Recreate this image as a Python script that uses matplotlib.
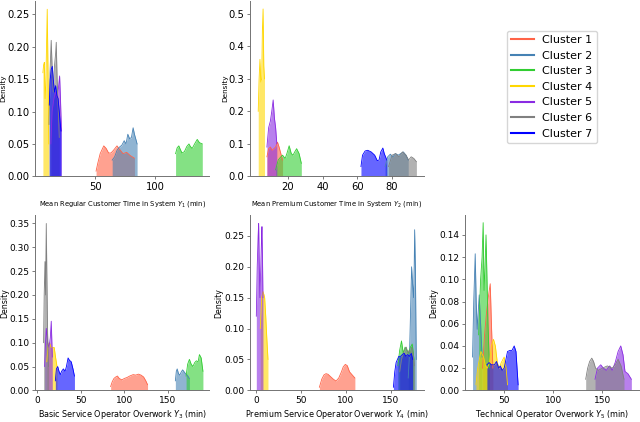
import matplotlib
matplotlib.use("Agg")
import matplotlib.pyplot as plt
from matplotlib.lines import Line2D

# === Données (densités par cluster) ===
clusters = ["Cluster 1", "Cluster 2", "Cluster 3", "Cluster 4", "Cluster 5", "Cluster 6", "Cluster 7"]
colors = ["tomato", "steelblue", "limegreen", "gold", "blueviolet", "gray", "blue"]

# Y1 : temps moyen client régulier
y1_x = [
    [50.6, 52, 54, 57, 59, 61, 63, 65, 68, 70, 73, 76, 79, 82.5],
    [64, 66, 68, 70, 72, 74, 75.5, 77, 78.5, 80, 81.4, 82.5, 84, 84.7],
    [116.7, 118, 119.4, 120.5, 122, 124, 126, 127.8, 129, 130.5, 132.5, 134.7, 136.5, 138.9],
    [6.4, 7.0, 7.6, 8.2, 8.8, 9.4, 10.0, 10.4, 10.9, 11.3],
    [13, 14, 15.5, 17, 18.5, 19.5, 20.3, 21, 21.8],
    [11.5, 12.3, 13.3, 14.2, 15.0, 16.0, 17.0, 17.5, 18.2, 19.0, 20.0],
    [11.7, 12.5, 13.3, 14.2, 15.0, 16.0, 17.0, 18.0, 19.0, 20.0, 21.4],
]
y1_d = [
    [0.008, 0.02, 0.035, 0.047, 0.043, 0.036, 0.036, 0.04, 0.047, 0.042, 0.035, 0.037, 0.032, 0.028],
    [0.025, 0.03, 0.04, 0.045, 0.048, 0.055, 0.05, 0.065, 0.058, 0.06, 0.075, 0.065, 0.055, 0.05],
    [0.035, 0.044, 0.047, 0.042, 0.036, 0.038, 0.046, 0.05, 0.046, 0.043, 0.05, 0.057, 0.052, 0.05],
    [0.16, 0.172, 0.176, 0.12, 0.14, 0.2, 0.258, 0.2, 0.12, 0.05],
    [0.05, 0.1, 0.12, 0.13, 0.12, 0.14, 0.155, 0.12, 0.07],
    [0.08, 0.16, 0.21, 0.16, 0.13, 0.17, 0.19, 0.207, 0.15, 0.11, 0.06],
    [0.11, 0.15, 0.165, 0.17, 0.15, 0.13, 0.14, 0.125, 0.12, 0.1, 0.07],
]

# Y2 : temps moyen client premium
y2_x = [
    [8.0, 9.0, 10.0, 11.0, 12.0, 13.0, 14.1, 15.0, 16.0, 17.0],
    [76, 77.5, 79, 80.5, 82, 83.5, 85, 86.5, 88, 89.3],
    [13.0, 14.5, 16.0, 17.0, 18.5, 19.5, 20.8, 22.0, 23.0, 24.0, 25.1, 26.5, 27.8],
    [3.0, 3.5, 4.0, 4.5, 5.0, 5.4, 5.8, 6.2, 6.6],
    [8.0, 9.0, 10.0, 10.8, 11.6, 12.3, 13.0, 13.7],
    [78, 80, 82, 84, 86, 88, 89.5, 91, 92.5, 94],
    [62.1, 63, 64.5, 66, 68, 70, 71.5, 72.5, 73.5, 74.7, 75.5, 77],
]
y2_d = [
    [0.06, 0.085, 0.09, 0.08, 0.085, 0.09, 0.105, 0.09, 0.07, 0.05],
    [0.03, 0.06, 0.068, 0.06, 0.07, 0.065, 0.07, 0.075, 0.065, 0.05],
    [0.02, 0.05, 0.06, 0.065, 0.055, 0.07, 0.094, 0.07, 0.065, 0.075, 0.085, 0.07, 0.04],
    [0.2, 0.3, 0.36, 0.29, 0.3, 0.45, 0.515, 0.34, 0.3],
    [0.09, 0.15, 0.17, 0.2, 0.235, 0.18, 0.15, 0.1],
    [0.03, 0.065, 0.07, 0.06, 0.075, 0.065, 0.05, 0.06, 0.055, 0.045],
    [0.03, 0.065, 0.078, 0.08, 0.075, 0.065, 0.048, 0.05, 0.075, 0.087, 0.07, 0.05],
]

# Y3 : heures sup. opérateur basique
y3_x = [
    [84.2, 86, 88, 90, 92, 94, 97, 100, 103, 106, 110, 113, 116, 119, 122, 124.5, 126.5],
    [158.4, 159.5, 160.5, 162, 163.5, 165, 166.7, 168, 170, 172, 174.5],
    [170.7, 172.5, 174.5, 176.5, 178.5, 180.5, 182.5, 184.5, 186, 188, 190],
    [11.0, 12.5, 14.0, 16.0, 18.0, 19.5, 21.0, 22.7],
    [8.5, 9.5, 10.4, 12.0, 13.5, 15.0, 16.1, 17.3],
    [7.3, 8.0, 8.9, 9.5, 10.4, 11.0, 11.9, 13.0],
    [20.8, 22, 23.5, 25, 26.5, 28, 30, 32, 33.5, 35.4, 37, 39, 41, 42.7],
]
y3_d = [
    [0.008, 0.018, 0.025, 0.028, 0.03, 0.025, 0.022, 0.025, 0.027, 0.03, 0.033, 0.032, 0.034, 0.032, 0.028, 0.02, 0.012],
    [0.02, 0.04, 0.045, 0.035, 0.032, 0.038, 0.043, 0.04, 0.035, 0.032, 0.025],
    [0.03, 0.055, 0.065, 0.055, 0.05, 0.058, 0.062, 0.06, 0.075, 0.068, 0.04],
    [0.06, 0.095, 0.1, 0.09, 0.09, 0.09, 0.07, 0.05],
    [0.05, 0.1, 0.13, 0.1, 0.09, 0.11, 0.145, 0.07],
    [0.1, 0.2, 0.27, 0.2, 0.35, 0.25, 0.12, 0.05],
    [0.02, 0.045, 0.05, 0.04, 0.033, 0.04, 0.045, 0.04, 0.05, 0.068, 0.063, 0.06, 0.045, 0.03],
]

# Y4 : heures sup. opérateur premium
y4_x = [
    [70.4, 73, 75.5, 77.8, 80, 83, 86, 89, 92, 95, 97, 99.3, 101.5, 104, 107, 110],
    [169.5, 171, 172.5, 173.3, 174.5, 175.5, 176.2, 176.7, 177.5, 178.5],
    [158, 160, 162, 164, 166, 168, 170, 172, 174, 176],
    [4.4, 6.0, 7.4, 8.5, 9.3, 10.5, 11.5, 13.0],
    [0.0, 1.0, 2.0, 2.6, 3.3, 4.0, 5.0, 5.7, 6.3, 7.0, 7.4],
    [160, 162, 164, 165.5, 167.4, 169, 170.5, 172, 173.3, 175, 176.5],
    [153, 154.5, 156, 157.5, 159, 161, 163, 165, 167, 169, 171, 173, 174.5],
]
y4_d = [
    [0.005, 0.018, 0.025, 0.027, 0.026, 0.022, 0.018, 0.015, 0.02, 0.03, 0.038, 0.042, 0.04, 0.03, 0.025, 0.02],
    [0.02, 0.06, 0.15, 0.2, 0.17, 0.15, 0.2, 0.26, 0.2, 0.05],
    [0.04, 0.065, 0.08, 0.06, 0.07, 0.065, 0.06, 0.07, 0.075, 0.05],
    [0.1, 0.15, 0.16, 0.155, 0.15, 0.12, 0.09, 0.05],
    [0.12, 0.2, 0.25, 0.27, 0.2, 0.15, 0.2, 0.24, 0.265, 0.2, 0.15],
    [0.03, 0.05, 0.06, 0.065, 0.07, 0.06, 0.065, 0.06, 0.07, 0.06, 0.04],
    [0.005, 0.03, 0.045, 0.05, 0.055, 0.055, 0.058, 0.06, 0.055, 0.058, 0.055, 0.06, 0.05],
]

# Y5 : heures sup. opérateur technique
y5_x = [
    [28, 30, 32, 34, 35.8, 37, 38.5],
    [17.8, 19, 20.5, 21.5, 22.5, 23.5, 24.6, 26, 27.5],
    [24, 26, 27.5, 28.6, 29.5, 30.5, 31.5, 32.5, 33.5, 35],
    [21.2, 23, 26.3, 29, 31, 33, 35, 37, 39.1, 41, 43, 45, 47, 50, 52, 53.4],
    [142.5, 145, 148.3, 151, 154, 157.5, 160, 163, 166, 168.7, 171, 173, 176, 179.5],
    [133, 135, 137, 139.2, 141, 143, 146, 150, 155, 160, 163, 166, 169, 172],
    [32.4, 34.6, 37, 40, 42.2, 44.5, 46, 48, 50, 53.4, 56, 58, 60.2, 62, 64.2],
]
y5_d = [
    [0.02, 0.05, 0.07, 0.085, 0.096, 0.06, 0.02],
    [0.03, 0.08, 0.123, 0.08, 0.055, 0.07, 0.086, 0.06, 0.03],
    [0.05, 0.1, 0.12, 0.151, 0.09, 0.11, 0.14, 0.1, 0.06, 0.02],
    [0.005, 0.02, 0.035, 0.03, 0.022, 0.02, 0.025, 0.04, 0.046, 0.04, 0.025, 0.02, 0.025, 0.03, 0.02, 0.005],
    [0.01, 0.02, 0.023, 0.02, 0.018, 0.022, 0.018, 0.025, 0.035, 0.04, 0.032, 0.017, 0.015, 0.01],
    [0.01, 0.02, 0.026, 0.029, 0.026, 0.02, 0.018, 0.02, 0.022, 0.02, 0.023, 0.028, 0.022, 0.01],
    [0.023, 0.025, 0.023, 0.023, 0.026, 0.02, 0.022, 0.018, 0.02, 0.035, 0.036, 0.036, 0.04, 0.035, 0.005],
]

xlabels = [
    "Mean Regular Customer Time in System $Y_1$ (min)",
    "Mean Premium Customer Time in System $Y_2$ (min)",
    "Basic Service Operator Overwork $Y_3$ (min)",
    "Premium Service Operator Overwork $Y_4$ (min)",
    "Technical Operator Overwork $Y_5$ (min)",
]
xticks = [[50, 100], [20, 40, 60, 80], [0, 50, 100, 150], [0, 50, 100, 150], [50, 100, 150]]
yticks = [
    [0.0, 0.05, 0.10, 0.15, 0.20, 0.25],
    [0.0, 0.1, 0.2, 0.3, 0.4, 0.5],
    [0.0, 0.05, 0.10, 0.15, 0.20, 0.25, 0.30, 0.35],
    [0.0, 0.05, 0.10, 0.15, 0.20, 0.25],
    [0.0, 0.02, 0.04, 0.06, 0.08, 0.10, 0.12, 0.14],
]
ytick_fmt = ["{:.2f}", "{:.1f}", "{:.2f}", "{:.2f}", "{:.2f}"]
xlims = [(0, 144.5), (-1.7, 98.3), (-2.3, 197), (-7, 187), (10, 187)]
ylims = [(0, 0.271), (0, 0.54), (0, 0.368), (0, 0.284), (0, 0.158)]


def draw_panel(ax, xs, ds, i, tick_fs, label_fs, ylab_fs, xpad):
    for x, d, c in zip(xs, ds, colors):
        ax.fill_between(x, d, 0, color=c, alpha=0.6, lw=0)
        ax.plot(x, d, color=c, lw=0.6)
    ax.set_xlim(*xlims[i])
    ax.set_ylim(*ylims[i])
    ax.set_xticks(xticks[i])
    ax.set_yticks(yticks[i])
    ax.set_yticklabels([ytick_fmt[i].format(v) for v in yticks[i]])
    ax.tick_params(labelsize=tick_fs, length=2.5, width=0.6, pad=1.5, color="0.4")
    ax.set_xlabel(xlabels[i], fontsize=label_fs, labelpad=xpad)
    ax.set_ylabel("Density", fontsize=ylab_fs, labelpad=0.5)
    for s in ["top", "right"]:
        ax.spines[s].set_visible(False)
    for s in ["left", "bottom"]:
        ax.spines[s].set_color("0.45")
        ax.spines[s].set_linewidth(0.7)


fig, axes = plt.subplots(2, 3, figsize=(6.4, 4.22), dpi=100)
plt.subplots_adjust(left=0.055, right=0.998, bottom=0.075, top=0.998, wspace=0.236, hspace=0.22)

panels = [(axes[0, 0], y1_x, y1_d), (axes[0, 1], y2_x, y2_d),
          (axes[1, 0], y3_x, y3_d), (axes[1, 1], y4_x, y4_d), (axes[1, 2], y5_x, y5_d)]
for i, (ax, xs, ds) in enumerate(panels):
    if i < 2:
        draw_panel(ax, xs, ds, i, 7.2, 4.9, 5.2, 5)
    else:
        draw_panel(ax, xs, ds, i, 6.5, 5.8, 5.6, 2.5)

axes[0, 2].axis("off")
handles = [Line2D([0], [0], color=c, lw=1.5) for c in colors]
fig.legend(handles, clusters, loc="upper left", bbox_to_anchor=(0.792, 0.927),
           fontsize=8, frameon=True, borderaxespad=0)

fig.savefig("out.png", dpi=100)
